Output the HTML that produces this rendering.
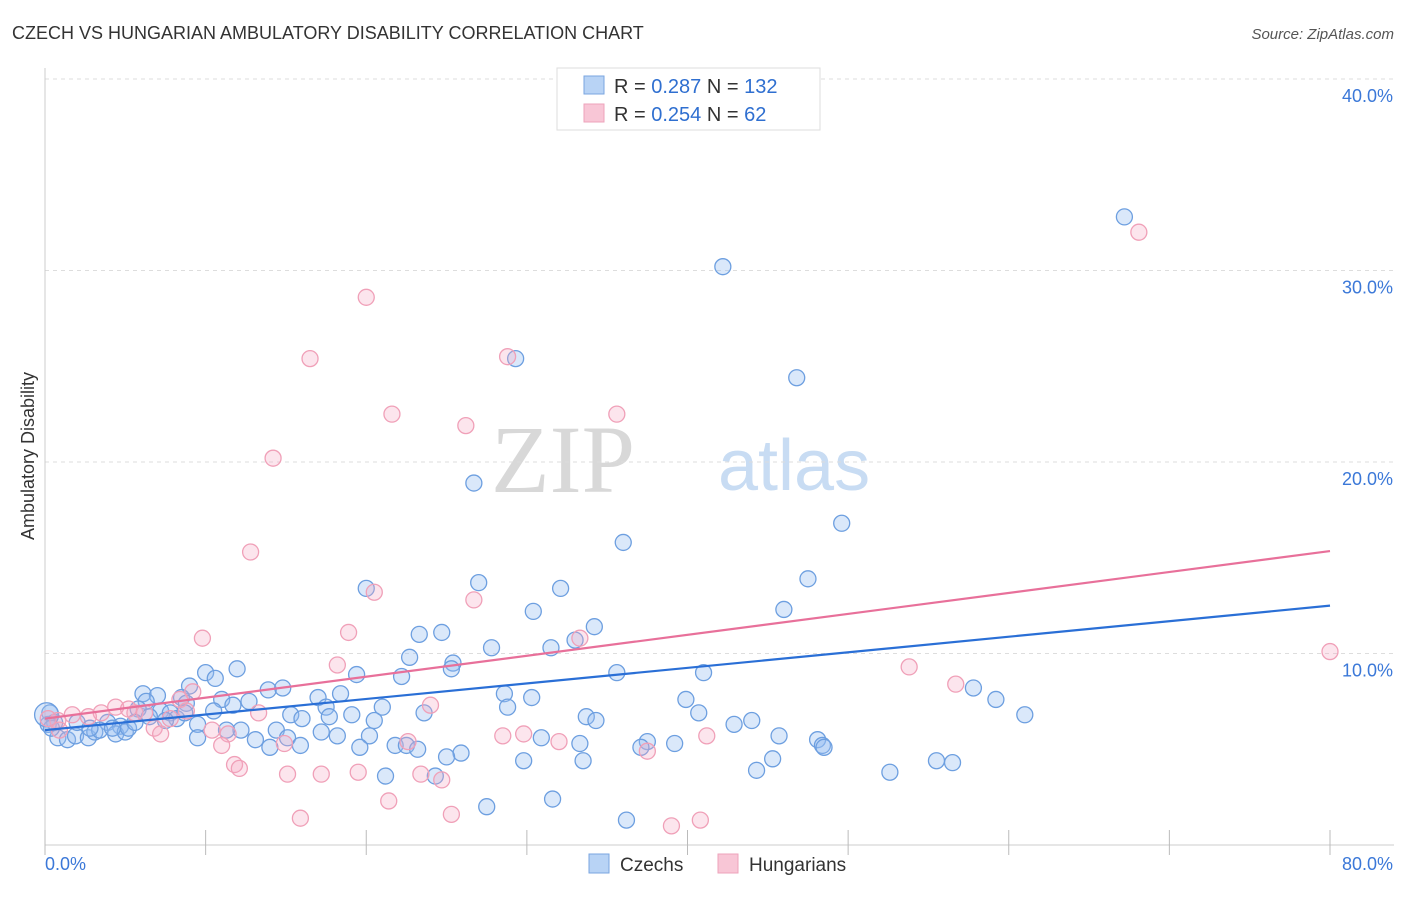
<!DOCTYPE html>
<html><head><meta charset="utf-8"><style>
body{margin:0;background:#fff;font-family:"Liberation Sans",sans-serif;}
svg text{font-family:"Liberation Sans",sans-serif;}
</style></head><body>
<svg id="chart" width="1406" height="892" xmlns="http://www.w3.org/2000/svg">
<text x="12" y="39" font-size="18" fill="#333">CZECH VS HUNGARIAN AMBULATORY DISABILITY CORRELATION CHART</text>
<text x="1394" y="39" font-size="15" fill="#555" font-style="italic" text-anchor="end">Source: ZipAtlas.com</text>
<g>
<text x="635" y="492" font-size="96" fill="#d8d8d8" text-anchor="end" font-family="Liberation Serif, serif" style="font-family:'Liberation Serif',serif">ZIP</text>
<text x="718" y="490" font-size="72" fill="#c8dcf3">atlas</text>
</g>
<g id="grid"></g>
<g id="axes"></g>
<text transform="translate(34,456) rotate(-90)" font-size="18" fill="#333" text-anchor="middle">Ambulatory Disability</text>
<g id="pts"></g>
<g id="trends"></g>
<g>
<rect x="557" y="68" width="263" height="62" fill="#fff" stroke="#ddd"/>
<rect x="584" y="76" width="20" height="18" fill="#b8d3f5" stroke="#7aa6e0"/>
<rect x="584" y="104" width="20" height="18" fill="#f8c6d6" stroke="#eea3bb"/>
<text x="614" y="93" font-size="20" fill="#333">R = <tspan fill="#2f6fd0">0.287</tspan>   N = <tspan fill="#2f6fd0">132</tspan></text>
<text x="614" y="121" font-size="20" fill="#333">R = <tspan fill="#2f6fd0">0.254</tspan>   N =  <tspan fill="#2f6fd0"> 62</tspan></text>
</g>
<g>
<rect x="589" y="854" width="20" height="19" fill="#b8d3f5" stroke="#7aa6e0"/>
<text x="620" y="871" font-size="19" fill="#333">Czechs</text>
<rect x="718" y="854" width="20" height="19" fill="#f8c6d6" stroke="#eea3bb"/>
<text x="749" y="871" font-size="19" fill="#333">Hungarians</text>
</g>
</svg>
<script>
const xTicks=[0,10,20,30,40,50,60,70,80];
const yTicks=[10,20,30,40];
const yTickLabels=["10.0%","20.0%","30.0%","40.0%"];
const xEndLabels=["0.0%","80.0%"];
const czechX=[67.2,42.2,29.3,46.8,26.7,49.6,36.0,47.5,27.0,20.0,32.1,30.4,46.0,34.2,33.0,23.3,24.7,27.8,31.5,22.7,25.4,25.3,11.96,19.4,22.2,35.6,41.0,10.0,10.6,9.0,13.9,14.8,57.8,59.2,6.1,7.0,8.5,17.0,18.4,28.6,30.3,39.9,6.3,8.8,11.0,12.7,21.0,28.8,40.7,61.0,10.5,11.7,7.2,7.8,5.8,17.5,23.6,15.3,16.0,17.7,19.1,33.7,34.3,8.2,20.5,44.0,42.9,3.9,4.7,9.5,12.2,11.3,14.4,17.2,18.2,20.2,30.9,45.7,48.1,48.4,48.5,9.5,13.1,15.1,15.9,14.0,21.8,22.5,23.2,19.6,33.3,37.5,37.1,39.2,25.9,25.0,29.8,33.5,45.3,55.5,56.5,44.3,52.6,21.2,24.3,27.5,31.6,36.2,0.3,0.6,0.8,1.4,1.9,2.7,2.0,3.1,3.4,4.4,5.0,5.2,4.2,2.8,0.2,0.4,5.6,6.5,7.5,8.7,0.1];
const czechY=[32.8,30.2,25.4,24.4,18.9,16.8,15.8,13.9,13.7,13.4,13.4,12.2,12.3,11.4,10.7,11.0,11.1,10.3,10.3,9.8,9.5,9.2,9.2,8.9,8.8,9.0,9.0,9.0,8.7,8.3,8.1,8.2,8.2,7.6,7.9,7.8,7.7,7.7,7.9,7.9,7.7,7.6,7.5,7.4,7.6,7.5,7.2,7.2,6.9,6.8,7.0,7.3,7.0,6.9,7.1,7.2,6.9,6.8,6.6,6.7,6.8,6.7,6.5,6.6,6.5,6.5,6.3,6.4,6.2,6.3,6.0,6.0,6.0,5.9,5.7,5.7,5.6,5.7,5.5,5.2,5.1,5.6,5.5,5.6,5.2,5.1,5.2,5.2,5.0,5.1,5.3,5.4,5.1,5.3,4.8,4.6,4.4,4.4,4.5,4.4,4.3,3.9,3.8,3.6,3.6,2.0,2.4,1.3,6.9,6.4,5.6,5.5,5.7,5.6,6.4,5.9,6.0,5.8,5.9,6.1,6.1,6.1,6.3,6.1,6.4,6.7,6.5,6.9,6.8];
const hungX=[68.1,20.0,16.5,28.8,21.6,35.6,26.2,14.2,12.8,20.5,26.7,18.9,9.8,33.3,80.0,18.2,53.8,56.7,9.2,8.4,24.0,13.3,4.4,5.6,3.5,2.7,1.7,0.8,7.8,6.8,7.2,10.4,11.4,28.5,29.8,41.2,14.9,22.6,32.0,11.0,37.5,11.8,12.1,15.1,17.2,19.5,23.4,24.7,21.4,15.9,25.3,39.0,40.8,0.9,0.2,5.2,6.2,8.8];
const hungY=[32.0,28.6,25.4,25.5,22.5,22.5,21.9,20.2,15.3,13.2,12.8,11.1,10.8,10.8,10.1,9.4,9.3,8.4,8.0,7.6,7.3,6.9,7.2,6.9,6.9,6.7,6.8,6.5,6.6,6.1,5.8,6.0,5.8,5.7,5.8,5.7,5.3,5.4,5.4,5.2,4.9,4.2,4.0,3.7,3.7,3.8,3.7,3.4,2.3,1.4,1.6,1.0,1.3,6.0,6.6,7.1,6.9,7.0];
const czechTrend=[6.0,12.5];
const hungTrend=[6.6,15.35];
const trendX=[0,80];

const NS="http://www.w3.org/2000/svg";
const sx=v=>45+v*(1285/80);
const sy=v=>845-v*19.15;
function mk(tag,attrs,parent){const e=document.createElementNS(NS,tag);for(const k in attrs)e.setAttribute(k,attrs[k]);parent.appendChild(e);return e;}
const grid=document.getElementById('grid'),axes=document.getElementById('axes'),svg=document.getElementById('chart');
yTicks.forEach((t,i)=>{
  const l=mk('line',{x1:45,x2:1394,y1:sy(t),y2:sy(t),stroke:'#ddd','stroke-dasharray':'4,4'},grid);
  
  
  const tx=mk('text',{x:1393,y:sy(t)+23,'font-size':18,fill:'#3b78d8','text-anchor':'end'},axes);
  tx.textContent=yTickLabels[i];
  
  
});
mk('line',{x1:45,x2:1394,y1:sy(0),y2:sy(0),stroke:'#ccc'},axes);
mk('line',{x1:45,x2:45,y1:68,y2:845,stroke:'#ccc'},axes);
xTicks.forEach(t=>{
  const l=mk('line',{x1:sx(t),x2:sx(t),y1:830,y2:855,stroke:'#bbb'},axes);
  
  
});
[[0,'start',45],[80,'end',1393]].forEach((d,i)=>{
  const tx=mk('text',{x:d[2],y:870,'font-size':18,fill:'#3b78d8','text-anchor':d[1]},axes);
  tx.textContent=xEndLabels[i];
  
  
});
const pts=document.getElementById('pts');


czechX.forEach((x,i)=>{
  const c=mk('circle',{cx:sx(x),cy:sy(czechY[i]),r:(i===czechX.length-1?12:8),fill:'rgba(150,190,240,0.35)',stroke:'#6d9fe0','stroke-width':1.3},pts);
  
  
});
hungX.forEach((x,i)=>{
  const c=mk('circle',{cx:sx(x),cy:sy(hungY[i]),r:8,fill:'rgba(245,170,195,0.3)',stroke:'#f0a0b8','stroke-width':1.3},pts);
  
  
});
const tr=document.getElementById('trends');
const l1=mk('line',{x1:sx(trendX[0]),y1:sy(czechTrend[0]),x2:sx(trendX[1]),y2:sy(czechTrend[1]),stroke:'#2a6fd6','stroke-width':2.2},tr);


const l2=mk('line',{x1:sx(trendX[0]),y1:sy(hungTrend[0]),x2:sx(trendX[1]),y2:sy(hungTrend[1]),stroke:'#e8709a','stroke-width':2.2},tr);


</script>
</body></html>
